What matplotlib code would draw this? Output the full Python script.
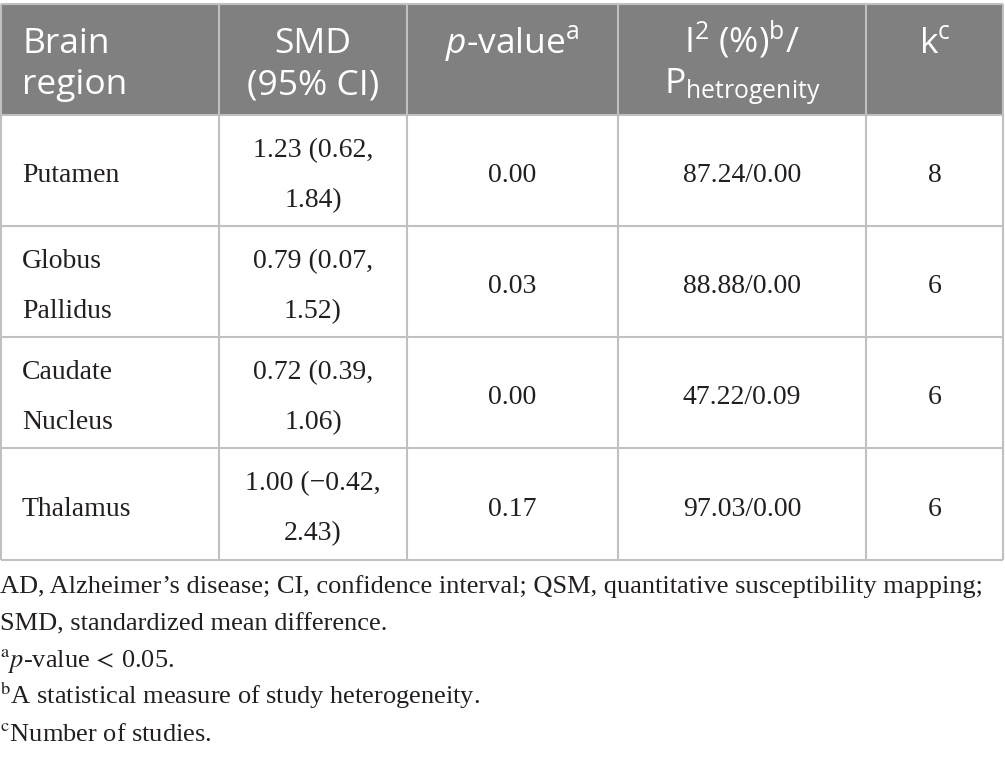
import matplotlib
matplotlib.use("Agg")
import matplotlib.pyplot as plt
from matplotlib.patches import Rectangle

# table content
regions = [["Putamen"], ["Globus", "Pallidus"], ["Caudate", "Nucleus"], ["Thalamus"]]
smd = [["1.23 (0.62,", "1.84)"], ["0.79 (0.07,", "1.52)"],
       ["0.72 (0.39,", "1.06)"], ["1.00 (\u22120.42,", "2.43)"]]
p_values = ["0.00", "0.03", "0.00", "0.17"]
i2_phet = ["87.24/0.00", "88.88/0.00", "47.22/0.09", "97.03/0.00"]
k_studies = ["8", "6", "6", "6"]

headers = [["Brain", "region"], ["SMD", "(95% CI)"],
           [r"$\mathit{p}$-value$^{\mathrm{a}}$"],
           [r"I$^{2}$ (%)$^{\mathrm{b}}$/", r"P$_{\mathrm{hetrogenity}}$"],
           [r"k$^{\mathrm{c}}$"]]

footnotes = [
    "AD, Alzheimer\u2019s disease; CI, confidence interval; QSM, quantitative susceptibility mapping;",
    "SMD, standardized mean difference.",
    r"$^{\mathrm{a}}\mathit{p}$-value$\,<\,$0.05.",
    r"$^{\mathrm{b}}$A statistical measure of study heterogeneity.",
    r"$^{\mathrm{c}}$Number of studies.",
]

plt.rcParams["mathtext.fontset"] = "custom"
plt.rcParams["mathtext.rm"] = "Open Sans"
plt.rcParams["mathtext.it"] = "Open Sans:italic"
plt.rcParams["mathtext.bf"] = "Open Sans:bold"

W, H = 1005, 763
fig = plt.figure(figsize=(W / 100, H / 100), dpi=100)
ax = fig.add_axes([0, 0, 1, 1])
ax.set_xlim(0, W)
ax.set_ylim(H, 0)
ax.axis("off")

col_x = [1, 219, 407, 618, 866, 1003]
row_y = [4, 115, 226, 337, 448, 560]
grid_col = "#c0c0c0"
head_col = "#808080"
text_col = "#231f20"

ax.add_patch(Rectangle((col_x[0], row_y[0]), col_x[-1] - col_x[0], row_y[1] - row_y[0],
                       facecolor=head_col, edgecolor="none"))

# grid lines
for x in col_x:
    ax.plot([x, x], [row_y[0], row_y[-1]], color=grid_col, lw=1.5, solid_capstyle="butt")
for y in row_y:
    ax.plot([col_x[0], col_x[-1]], [y, y], color=grid_col, lw=1.5, solid_capstyle="butt")

# header
head_base = [53, 94]
for j, lines in enumerate(headers):
    for i, s in enumerate(lines):
        if j == 0:
            ax.text(col_x[0] + 21, head_base[i], s, ha="left", va="baseline",
                    fontsize=25.5, family="Open Sans", color="white")
        else:
            ax.text((col_x[j] + col_x[j + 1]) / 2, head_base[i], s, ha="center",
                    va="baseline", fontsize=25.5, family="Open Sans", color="white")

# body
serif = ["Liberation Serif", "DejaVu Serif"]
for r in range(len(regions)):
    mid = (row_y[r + 1] + row_y[r + 2]) / 2 + 11.5
    cells = [regions[r], smd[r], [p_values[r]], [i2_phet[r]], [k_studies[r]]]
    for j, lines in enumerate(cells):
        n = len(lines)
        for i, s in enumerate(lines):
            y = mid + (i - (n - 1) / 2) * 50
            if j == 0:
                ax.text(col_x[0] + 21, y, s, ha="left", va="baseline", fontsize=20,
                        family=serif, color=text_col)
            else:
                ax.text((col_x[j] + col_x[j + 1]) / 2, y, s, ha="center", va="baseline",
                        fontsize=20, family=serif, color=text_col)

# footnotes
foot_base = [593, 630, 667, 704, 741]
for s, y in zip(footnotes, foot_base):
    ax.text(0, y, s, ha="left", va="baseline", fontsize=19, family=serif,
            color=text_col, math_fontfamily="stix")

fig.savefig("out.png", dpi=100)
